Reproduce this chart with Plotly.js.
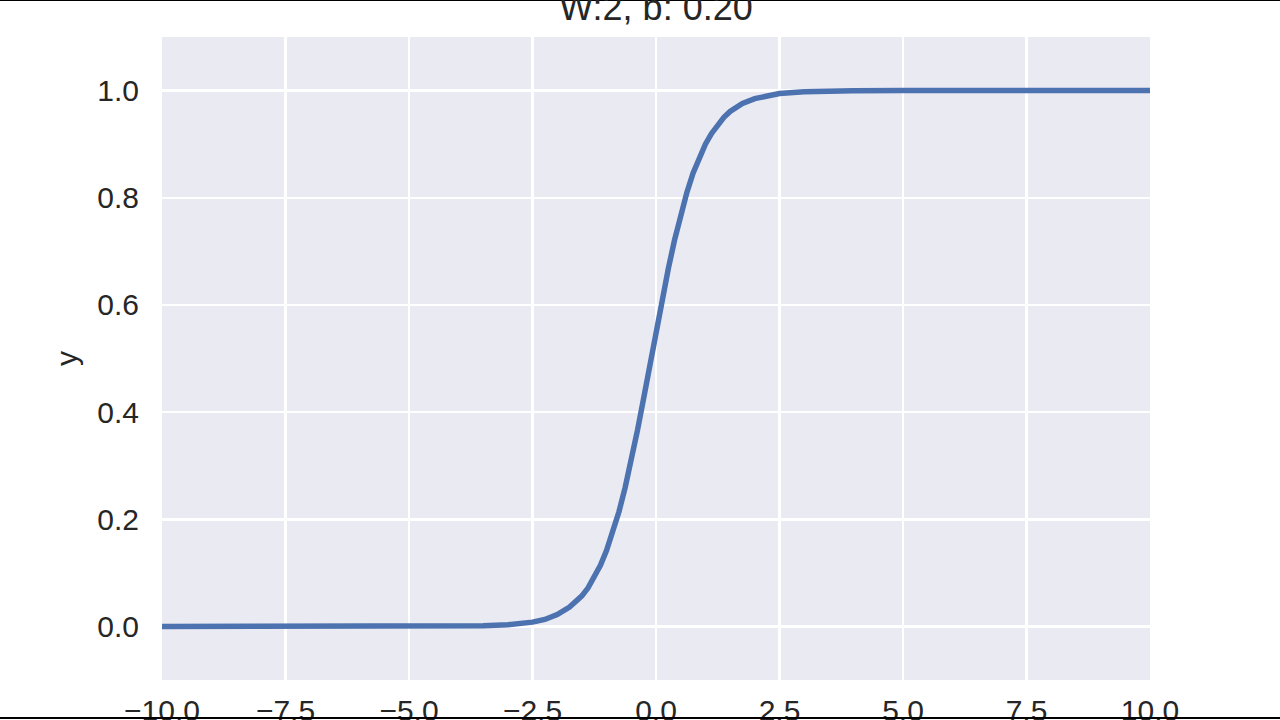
<!DOCTYPE html>
<html>
<head>
<meta charset="utf-8">
<script src="https://cdn.plot.ly/plotly-3.0.1.min.js"></script>
<style>html,body{margin:0;padding:0;background:#fff;}#chart{width:1280px;height:720px;}</style>
</head>
<body>
<div id="chart"></div>
<script>
// Curve values
var xValues = [-10, -9, -8, -7, -6, -5, -4, -3.5, -3, -2.75, -2.5, -2.25, -2, -1.75, -1.5, -1.375, -1.25, -1.125, -1, -0.875, -0.75, -0.625, -0.5, -0.375, -0.25, -0.125, 0, 0.125, 0.25, 0.375, 0.5, 0.625, 0.75, 0.875, 1, 1.125, 1.25, 1.375, 1.5, 1.625, 1.75, 2, 2.25, 2.5, 3, 3.5, 4, 5, 6, 7, 8, 9, 10];
var yValues = [0.0, 0.0, 0.0, 0.0, 0.0, 0.0001, 0.0005, 0.0011, 0.003, 0.005, 0.008, 0.013, 0.022, 0.036, 0.057, 0.072, 0.091, 0.114, 0.142, 0.175, 0.214, 0.259, 0.31, 0.366, 0.426, 0.488, 0.55, 0.611, 0.668, 0.721, 0.769, 0.81, 0.846, 0.875, 0.9, 0.92, 0.937, 0.95, 0.961, 0.969, 0.976, 0.985, 0.991, 0.9945, 0.998, 0.9993, 0.9997, 1.0, 1.0, 1.0, 1.0, 1.0, 1.0];
var xTickVals = [-10, -7.5, -5, -2.5, 0, 2.5, 5, 7.5, 10];
var xTickText = ["\u221210.0", "\u22127.5", "\u22125.0", "\u22122.5", "0.0", "2.5", "5.0", "7.5", "10.0"];
var yTickVals = [0, 0.2, 0.4, 0.6, 0.8, 1.0];
var yTickText = ["0.0", "0.2", "0.4", "0.6", "0.8", "1.0"];
var titleText = "W:2, b: 0.20";
var yLabel = "y";

var font = {family: "Liberation Sans, Arial, sans-serif", size: 30, color: "#262626"};

var trace = {
  x: xValues, y: yValues, type: "scatter", mode: "lines",
  line: {color: "#4c72b0", width: 5.5},
  hoverinfo: "none"
};

var layout = {
  width: 1280, height: 720,
  paper_bgcolor: "#ffffff", plot_bgcolor: "#eaeaf2",
  margin: {l: 162, r: 130, t: 37, b: 40, pad: 0},
  showlegend: false,
  font: font,
  title: {text: titleText, font: {family: font.family, size: 36, color: "#262626"},
          x: 656/1280, xanchor: "center", yref: "container", y: 1 - 20/720, yanchor: "bottom"},
  xaxis: {range: [-10, 10], tickvals: xTickVals, ticktext: xTickText, showgrid: true,
          gridcolor: "#ffffff", gridwidth: 2.5, zeroline: false, showline: false, ticks: "",
          ticklabelstandoff: 10, tickfont: font},
  yaxis: {range: [-0.1, 1.1], tickvals: yTickVals, ticktext: yTickText, showgrid: true,
          gridcolor: "#ffffff", gridwidth: 2.5, zeroline: false, showline: false, ticks: "",
          ticklabelstandoff: 22, tickfont: font,
          title: {text: yLabel, font: font, standoff: 10}},
  shapes: [
    {type: "line", xref: "paper", yref: "paper", x0: -162/988, x1: 1118/988, y0: 1 + 37/643, y1: 1 + 37/643, line: {color: "#000", width: 2}},
    {type: "line", xref: "paper", yref: "paper", x0: -162/988, x1: 1118/988, y0: -38/643, y1: -38/643, line: {color: "#000", width: 2}},
    {type: "rect", xref: "paper", yref: "paper", x0: 1122/988, x1: 1130/988, y0: (680-115)/643, y1: (680-680)/643, line: {width: 0}, fillcolor: "#ececec"}
  ]
};

Plotly.newPlot("chart", [trace], layout, {staticPlot: true, displayModeBar: false});
</script>
</body>
</html>
